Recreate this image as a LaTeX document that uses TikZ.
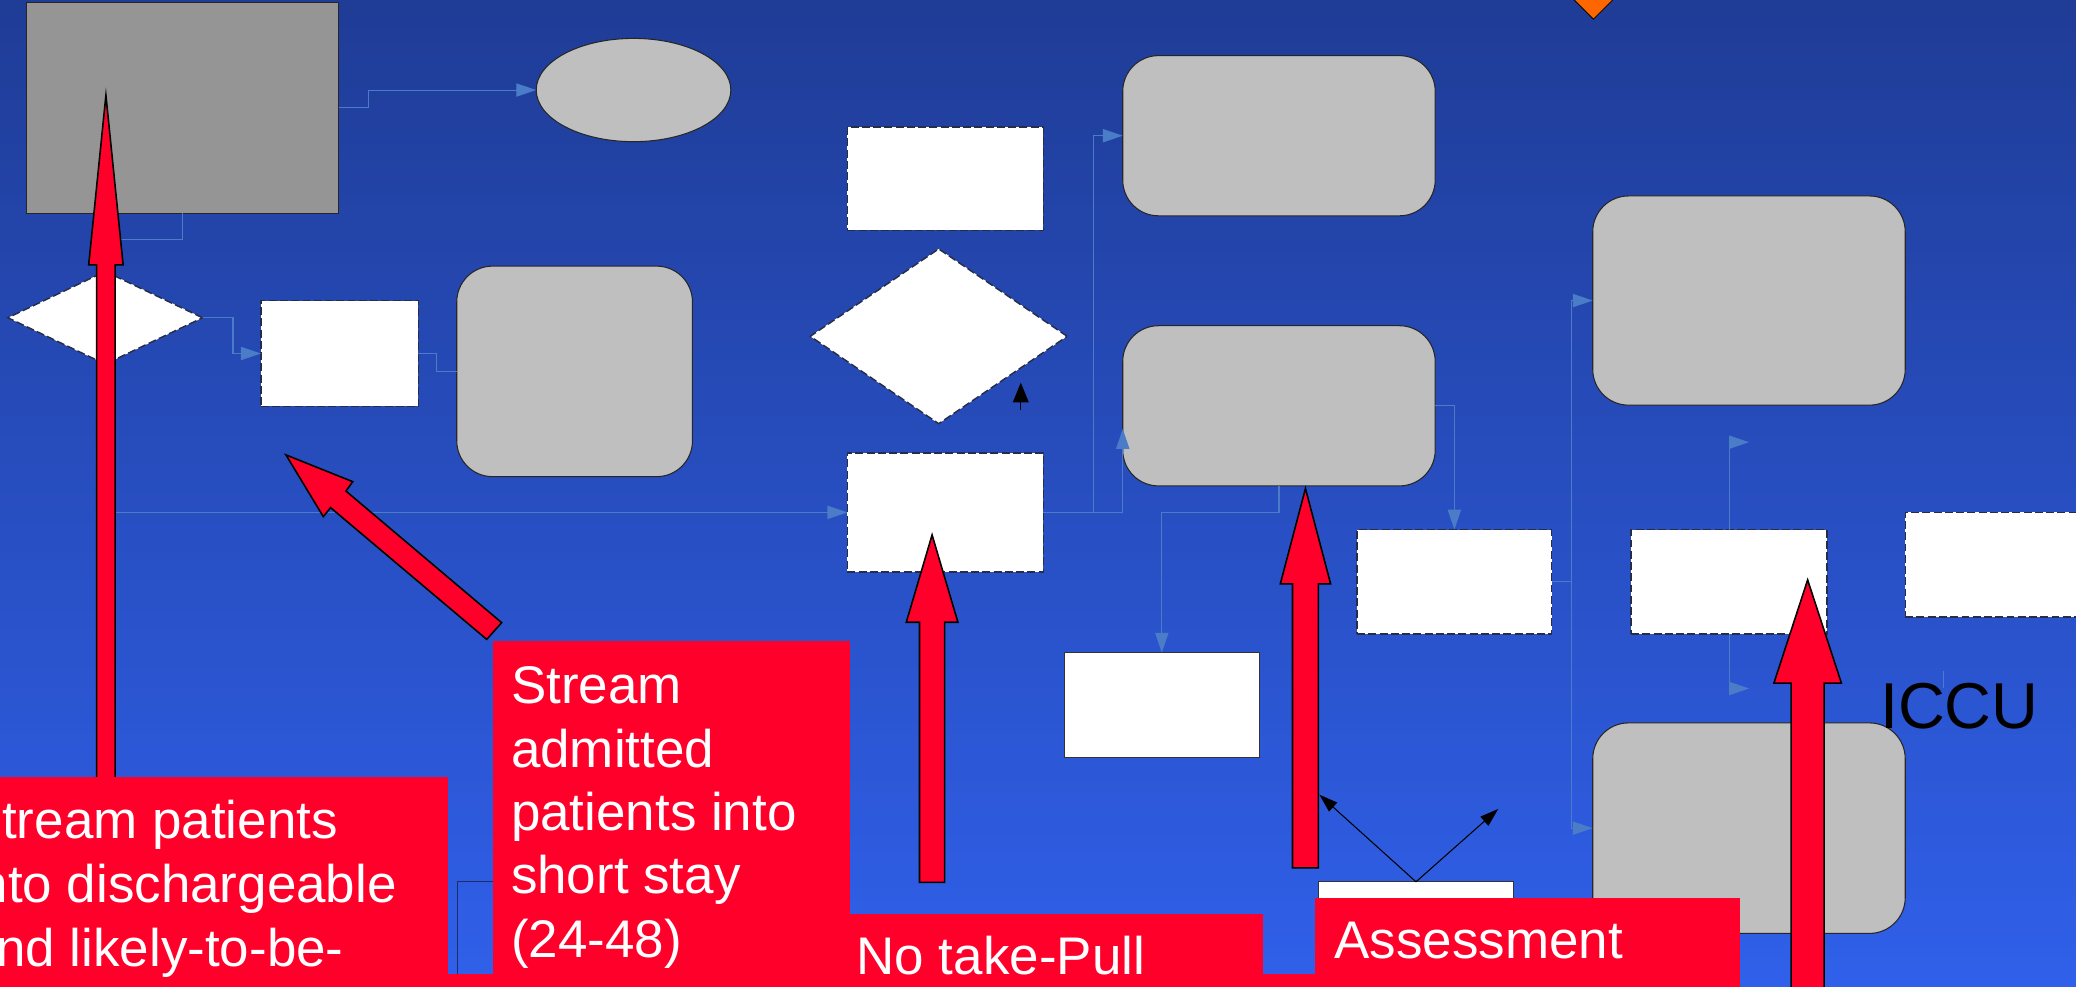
\documentclass[tikz,border=0pt]{standalone}
\usepackage{fontspec}
\setmainfont{Liberation Sans}
\usetikzlibrary{shapes.geometric,arrows.meta,calc}
\definecolor{bgtop}{RGB}{31,60,150}
\definecolor{bgbot}{RGB}{48,96,234}
\definecolor{redc}{RGB}{255,0,42}
\definecolor{dgray}{RGB}{149,149,149}
\definecolor{lgray}{RGB}{191,191,191}
\definecolor{connc}{RGB}{74,124,200}
\definecolor{orangec}{RGB}{255,102,0}
\definecolor{navyc}{RGB}{30,44,105}
\definecolor{dashc}{RGB}{40,45,70}
\tikzset{
 zsep/.style={inner sep=0pt, outer sep=0pt},
 box/.style={zsep, anchor=north west, rectangle},
 dashbox/.style={box, fill=white, draw=dashc, line width=1.1pt, dash pattern=on 6pt off 2.5pt},
 solidbox/.style={box, fill=white, draw=black!80, line width=0.8pt},
 rbox/.style={box, rounded corners=27pt, fill=lgray, draw=black!85, line width=0.8pt},
 ddiam/.style={zsep, diamond, fill=white, draw=dashc, line width=1.1pt, dash pattern=on 6pt off 2.5pt},
 conn/.style={draw=connc, line width=0.8pt, -{Triangle[length=15pt,width=10pt]}},
 plain/.style={draw=connc, line width=0.8pt},
 blk/.style={draw=black, line width=0.8pt, -{Triangle[length=14pt,width=9pt]}},
 redarr/.style={fill=redc, draw=black, line width=1.2pt, line join=miter},
 redbox/.style={box, fill=redc},
 wtxt/.style={zsep, anchor=base west, text=white, font=\fontsize{40}{48}\selectfont},
}
\newcommand\upblockarrow[6]{\draw[redarr] (#1,#2) -- (#1+#4,#3) -- (#1+#5,#3) -- (#1+#5,#6) -- (#1-#5,#6) -- (#1-#5,#3) -- (#1-#4,#3) -- cycle;}
\begin{document}
\begin{tikzpicture}[x=1pt,y=-1pt]
\useasboundingbox (0,0) rectangle (1568,745);
\clip (0,0) rectangle (1568,745);
\shade[top color=bgtop, bottom color=bgbot] (0,0) rectangle (1568,745);

% shapes
\node[box, fill=dgray, draw=black!85, line width=0.8pt, minimum width=236pt, minimum height=159pt] (gr) at (20,2) {};
\node[zsep, ellipse, fill=lgray, draw=black!85, line width=0.8pt, minimum width=147pt, minimum height=78pt] (el) at (478.5,68) {};
\node[ddiam, minimum width=147pt, minimum height=70pt] (d1) at (79.5,240) {};
\node[dashbox, minimum width=119pt, minimum height=80pt] (r1) at (197,227) {};
\node[rbox, minimum width=178pt, minimum height=159pt] (rr1) at (345,201) {};
\node[dashbox, minimum width=148pt, minimum height=78pt] (r2) at (640,96) {};
\node[ddiam, minimum width=194pt, minimum height=132pt] (d2) at (709,254) {};
\node[dashbox, minimum width=148pt, minimum height=90pt] (r3) at (640,342) {};
\node[rbox, minimum width=236pt, minimum height=121pt] (rr2a) at (848,42) {};
\node[rbox, minimum width=236pt, minimum height=121pt] (rr2b) at (848,246) {};
\node[dashbox, minimum width=147pt, minimum height=79pt] (r4) at (1025,400) {};
\node[solidbox, minimum width=147pt, minimum height=79pt] (r5) at (804,493) {};
\node[rbox, minimum width=236pt, minimum height=158pt] (rr3) at (1203,148) {};
\node[dashbox, minimum width=148pt, minimum height=79pt] (r6) at (1232,400) {};
\node[dashbox, minimum width=140pt, minimum height=79pt] (r7) at (1439,387) {};
\node[rbox, minimum width=236pt, minimum height=159pt] (rr4) at (1203,546) {};
\node[solidbox, minimum width=147pt, minimum height=40pt] (r8) at (996,666) {};
\node[box, draw=navyc, line width=0.8pt, minimum width=40pt, minimum height=100pt] (r9) at (345.5,666) {};
\node[zsep, diamond, fill=orangec, draw=black, line width=0.6pt, minimum width=31pt, minimum height=31pt] (od) at (1203.5,-1) {};

% connectors
\draw[conn] (gr.east) -- ++(22,0) |- (el.west);
\draw[plain] (gr.south) -- ++(0,20) -| (d1.north);
\draw[conn] (d1.east) -- ++(23,0) |- (r1.west);
\draw[plain] (r1.east) -- ++(14,0) |- (rr1.west);
\draw[conn] (d1.south) |- (r3.west);
\draw[conn] (r3.east) -- ++(38,0) |- (rr2a.west);
\draw[conn] (r3.east) -| ($(rr2b.west)+(0,17.5)$);
\draw[conn] (rr2b.east) -| (r4.north);
\draw[conn] (rr2b.south) -- ++(0,20) -| (r5.north);
\draw[conn] (r4.east) -- ++(15,0) |- (rr3.west);
\draw[conn] (r4.east) -- ++(15,0) |- (rr4.west);
\coordinate (a11) at (1321,334);
\coordinate (a12) at (1321,520);
\draw[conn] (r6.north) |- (a11);
\draw[conn] (r6.south) |- (a12);
\coordinate (s1) at (1468,507);
\coordinate (s2) at (1468,520);
\draw[plain, line width=0.5pt] (s1) -- (s2);

% small black arrows
\coordinate (ba1) at (771,310);
\coordinate (ba2) at (771,289);
\draw[draw=black, line width=0.8pt, -{Triangle[length=15pt,width=12pt]}] (ba1) -- (ba2);
\coordinate (bl1) at (996.5,600.2);
\coordinate (bl2) at (1131.6,611);
\draw[blk] (r8.north) -- (bl1);
\draw[blk] (r8.north) -- (bl2);

% red block arrows
\upblockarrow{80}{72}{200}{13}{7}{588}
\upblockarrow{704}{404}{470}{19.5}{9.5}{666.5}
\upblockarrow{986}{369}{441}{19}{9.8}{655.5}
\upblockarrow{1365.3}{438}{516}{25.5}{12.5}{760}
\draw[redarr] (216,343.6) -- (266.4,363.8) -- (261.3,370.9) -- (378.9,470.3) -- (367.6,482.9) -- (249.7,383.4) -- (244.2,390.2) -- cycle;

% red text boxes
\node[redbox, minimum width=338pt, minimum height=200pt] (b1) at (0,587) {};
\node[redbox, minimum width=270pt, minimum height=300pt] (b2) at (372,484) {};
\node[redbox, minimum width=314pt, minimum height=100pt] (b3) at (640,690) {};
\node[redbox, minimum width=321pt, minimum height=100pt] (b4) at (993,678) {};
\node[redbox, minimum width=1314pt, minimum height=50pt] (b5) at (0,735.5) {};

\node[wtxt] (t1a) at (-25,633) {Stream patients};
\node[wtxt] (t1b) at (-25,682) {into dischargeable};
\node[wtxt] (t1c) at (-25,730) {and likely-to-be-};
\node[wtxt] (t2a) at (386,531) {Stream};
\node[wtxt] (t2b) at (386,579.5) {admitted};
\node[wtxt] (t2c) at (386,627) {patients into};
\node[wtxt] (t2d) at (386,675) {short stay};
\node[wtxt] (t2e) at (386,723.5) {(24-48)};
\node[wtxt] (t3) at (647,736) {No take-Pull};
\node[wtxt] (t4) at (1008,724.3) {Assessment};

\node[zsep, anchor=base west, text=black, font=\fontsize{49}{58}\selectfont] (iccu) at (1420,550.6) {ICCU};
\end{tikzpicture}
\end{document}
